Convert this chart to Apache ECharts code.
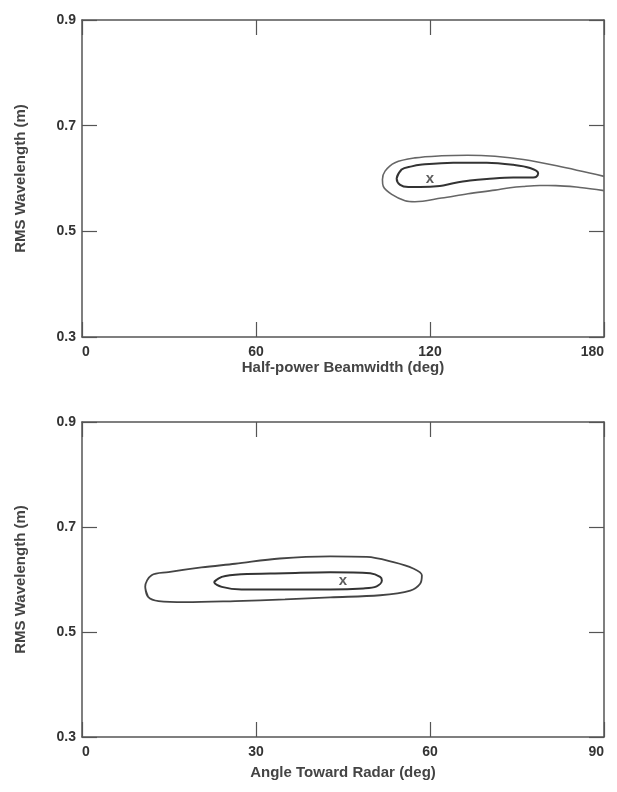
<!DOCTYPE html>
<html>
<head>
<meta charset="utf-8">
<script src="https://cdn.jsdelivr.net/npm/echarts@6/dist/echarts.min.js"></script>
<style>
  html, body { margin: 0; padding: 0; background: #fff; }
  #chart { width: 617px; height: 792px; }
</style>
</head>
<body>
<div id="chart"></div>
<script>
// top panel: half-power beamwidth vs RMS wavelength
var beamOuter = [
  [180, 0.604], [163.7, 0.624], [152.2, 0.636], [142.4, 0.642], [133, 0.644],
  [124, 0.643], [114.8, 0.639], [107.9, 0.630], [104.5, 0.614], [103.6, 0.598],
  [103.9, 0.585], [106.8, 0.570], [111.4, 0.558], [114.8, 0.556], [124, 0.563],
  [133.1, 0.571], [142.4, 0.578], [147.6, 0.5826], [152.1, 0.585], [157.9, 0.5867],
  [163.4, 0.5866], [171.7, 0.583], [180, 0.577]
];
var beamInner = [
  [108.5, 0.600], [110.2, 0.617], [113.7, 0.623], [116.6, 0.626], [128.0, 0.630],
  [139.6, 0.630], [148.7, 0.626], [154.5, 0.620], [157.3, 0.610], [156.6, 0.603],
  [155.6, 0.602], [148.7, 0.602], [139.6, 0.599], [133.8, 0.596], [128.0, 0.591],
  [123.4, 0.586], [116.6, 0.584], [112.5, 0.584], [109.7, 0.588], [108.5, 0.600],
  [110.2, 0.617]
];
var beamPeak = [[120, 0.6]];

// bottom panel: angle toward radar vs RMS wavelength
var angleOuter = [
  [10.9, 0.586], [11.4, 0.567], [13.2, 0.559], [17.8, 0.557], [26.4, 0.559],
  [35.0, 0.562], [42.8, 0.566], [51.4, 0.570], [56.6, 0.579], [58.3, 0.592],
  [58.6, 0.608], [57.1, 0.621], [53.7, 0.633], [49.1, 0.643], [42.8, 0.644],
  [34.1, 0.640], [26.4, 0.630], [20.6, 0.623], [14.9, 0.614], [12.0, 0.608],
  [10.9, 0.586], [11.4, 0.567]
];
var angleInner = [
  [22.8, 0.595], [24.1, 0.605], [27.5, 0.610], [35.0, 0.612], [42.8, 0.614],
  [49.7, 0.612], [51.4, 0.605], [51.7, 0.598], [50.8, 0.587], [48.5, 0.583],
  [42.8, 0.581], [35.0, 0.581], [27.5, 0.581], [24.1, 0.586], [22.8, 0.595],
  [24.1, 0.605]
];
var anglePeak = [[45, 0.597]];

var wavelengthRange = [0.3, 0.9, 0.2];   // min, max, step
var beamRange = [0, 180, 60];
var angleRange = [0, 90, 30];

var myChart = echarts.init(document.getElementById('chart'));

var font = 'Liberation Sans, Arial, sans-serif';
var frameLine = { show: true, onZero: false, lineStyle: { color: '#555', width: 1.5 } };

function ticks() {
    return { show: true, inside: true, length: 15, lineStyle: { color: '#555', width: 1.2 } };
}

function xAx(grid, range, name, gap, pos) {
    var main = pos === 'bottom';
    return {
        type: 'value', gridIndex: grid, position: pos, offset: 0,
        min: range[0], max: range[1], interval: range[2],
        name: main ? name : '', nameLocation: 'middle', nameGap: gap,
        nameTextStyle: { fontFamily: font, fontSize: 15, fontWeight: 'bold', color: '#444' },
        axisLine: frameLine,
        axisTick: ticks(),
        axisLabel: {
            show: main, margin: 8,
            alignMinLabel: 'left', alignMaxLabel: 'right',
            fontFamily: font, fontSize: 14, fontWeight: 'bold', color: '#333'
        },
        splitLine: { show: false }
    };
}

function yAx(grid, pos) {
    var main = pos === 'left';
    return {
        type: 'value', gridIndex: grid, position: pos, offset: 0,
        min: wavelengthRange[0], max: wavelengthRange[1], interval: wavelengthRange[2],
        name: main ? 'RMS Wavelength (m)' : '', nameLocation: 'middle', nameGap: 54,
        nameTextStyle: { fontFamily: font, fontSize: 15, fontWeight: 'bold', color: '#444' },
        axisLine: frameLine,
        axisTick: ticks(),
        axisLabel: {
            show: main, margin: 6,
            formatter: function (v) { return v.toFixed(1); },
            fontFamily: font, fontSize: 14, fontWeight: 'bold', color: '#333'
        },
        splitLine: { show: false }
    };
}

function contour(data, xi, yi, color, width) {
    return {
        type: 'line', xAxisIndex: xi, yAxisIndex: yi, data: data,
        smooth: 0.35, showSymbol: false, silent: true,
        lineStyle: { color: color, width: width }
    };
}

function peak(data, xi, yi) {
    return {
        type: 'scatter', xAxisIndex: xi, yAxisIndex: yi, data: data,
        symbol: 'circle', symbolSize: 10, silent: true,
        itemStyle: { color: 'rgba(0,0,0,0)' },
        label: {
            show: true, position: 'inside', formatter: 'x',
            fontFamily: font, fontSize: 15, fontWeight: 'bold', color: '#333'
        }
    };
}

myChart.setOption({
    backgroundColor: '#fff',
    animation: false,
    grid: [
        { left: 82, top: 20, width: 522, height: 317 },
        { left: 82, top: 422, width: 522, height: 315 }
    ],
    xAxis: [
        xAx(0, beamRange, 'Half-power Beamwidth (deg)', 21, 'bottom'),
        xAx(0, beamRange, '', 0, 'top'),
        xAx(1, angleRange, 'Angle Toward Radar (deg)', 28, 'bottom'),
        xAx(1, angleRange, '', 0, 'top')
    ],
    yAxis: [
        yAx(0, 'left'),
        yAx(0, 'right'),
        yAx(1, 'left'),
        yAx(1, 'right')
    ],
    series: [
        contour(beamOuter, 0, 0, '#666', 1.6),
        contour(beamInner, 0, 0, '#333', 2),
        peak(beamPeak, 0, 0),
        contour(angleOuter, 2, 2, '#444', 1.8),
        contour(angleInner, 2, 2, '#333', 2),
        peak(anglePeak, 2, 2)
    ]
});
</script>
</body>
</html>
